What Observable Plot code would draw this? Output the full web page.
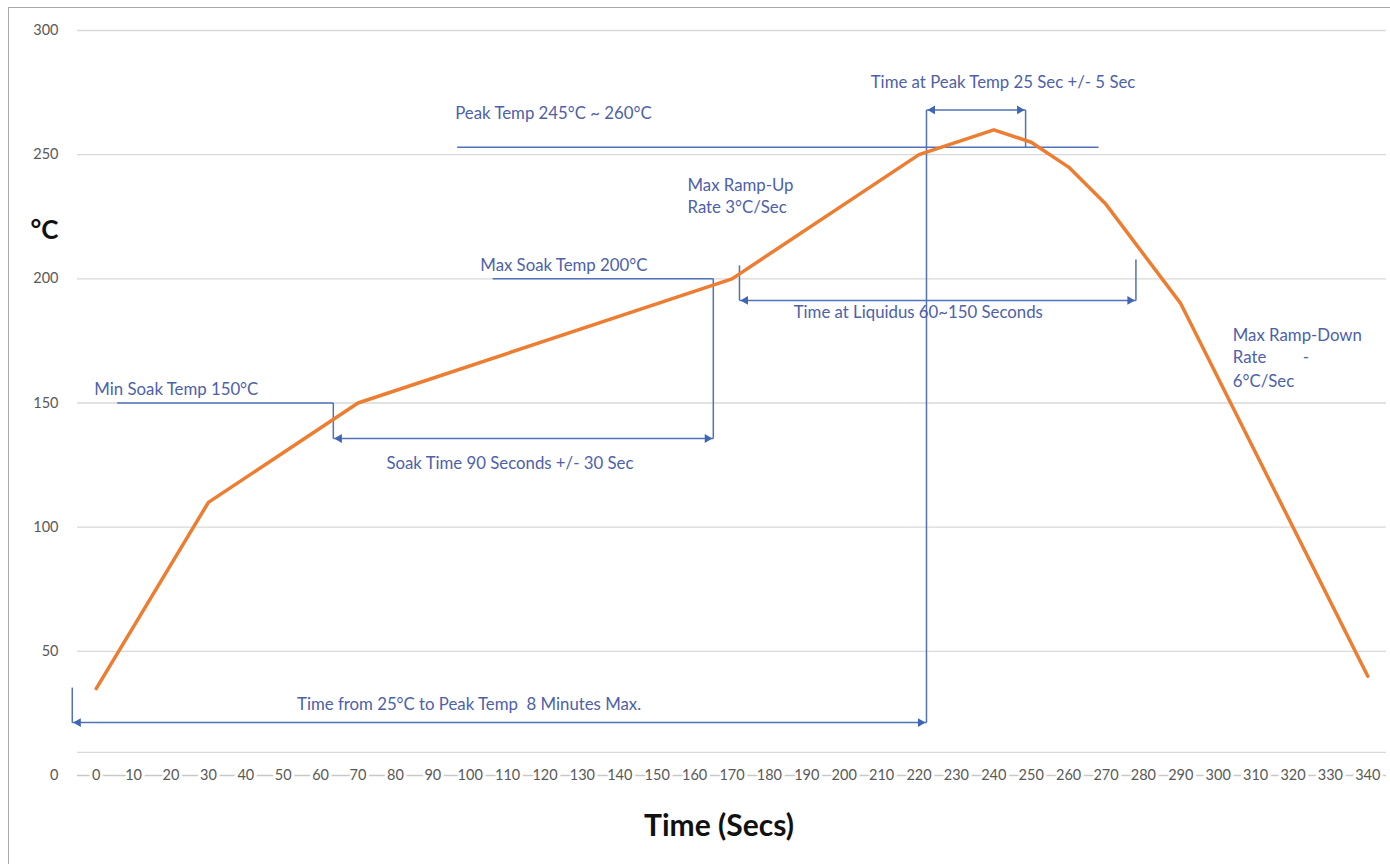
<!DOCTYPE html>
<html><head><meta charset="utf-8">
<script src="https://cdn.jsdelivr.net/npm/d3@7"></script>
<script src="https://cdn.jsdelivr.net/npm/@observablehq/plot@0.6"></script>
<style>
body{margin:0;background:#fff;}
#wrap{position:relative;width:1390px;height:864px;overflow:hidden;}
#frame{position:absolute;left:8px;top:7px;width:1400px;height:900px;border:1.5px solid #a9a9a9;pointer-events:none;}
</style></head><body><div id="wrap"><div id="frame"></div></div>
<script>
// Reflow profile (time in seconds, temperature in °C)
const times = [0, 30, 70, 170, 220, 240, 250, 260, 270, 290, 340];
const temps = [35, 110, 150, 200, 250, 260, 255, 245, 230, 190, 40];

// Axis ticks
const xTicks = d3.range(0, 341, 10);
const yTicks = [0, 50, 100, 150, 200, 250, 300];
const gridValues = [9.3, 50, 100, 150, 200, 250, 300];

// Annotation guide segments [x1, y1, x2, y2] in data units
const guideSegments = [
  [96.5, 253, 268, 253],      // peak temp line
  [222, 268, 222, 21.3],      // big vertical at 222
  [222, 268, 248.5, 268],     // time at peak arrow
  [248.5, 268, 248.5, 253],
  [-6.4, 35.4, -6.4, 21.3],   // time from 25°C
  [-6.4, 21.3, 222, 21.3],
  [5.6, 150, 63.4, 150],      // min soak
  [63.4, 150, 63.4, 135.7],
  [63.4, 135.7, 165, 135.7],  // soak time arrow
  [106, 200, 165, 200],       // max soak
  [165, 200, 165, 135.7],
  [172, 205.4, 172, 191.3],   // liquidus
  [172, 191.3, 278, 191.3],
  [278, 207.8, 278, 191.3]
];
// Arrow tips [x, y, direction]
const arrowTips = [
  [222, 268, "left"], [248.5, 268, "right"],
  [-6.4, 21.3, "left"], [222, 21.3, "right"],
  [63.4, 135.7, "left"], [165, 135.7, "right"],
  [172, 191.3, "left"], [278, 191.3, "right"]
];
// Annotation labels [text, x, y]
const noteLabels = [
  ["Peak Temp 245°C ~ 260°C", 96, 266.6],
  ["Time at Peak Temp 25 Sec +/- 5 Sec", 207.1, 279],
  ["Max Ramp-Up", 158.1, 237.6],
  ["Rate 3°C/Sec", 158.1, 228.7],
  ["Max Soak Temp 200°C", 102.7, 205.4],
  ["Min Soak Temp 150°C", -0.5, 155.4],
  ["Soak Time 90 Seconds +/- 30 Sec", 77.6, 125.6],
  ["Time at Liquidus 60~150 Seconds", 186.5, 186.5],
  ["Time from 25°C to Peak Temp  8 Minutes Max.", 53.7, 28.6],
  ["Max Ramp-Down", 303.9, 177.2],
  ["Rate", 303.9, 168.3],
  ["-", 322.6, 168.3],
  ["6°C/Sec", 303.9, 158.7]
];

const profile = times.map((t, i) => ({t, temp: temps[i]}));
const segs = guideSegments.map(([x1, y1, x2, y2]) => ({x1, y1, x2, y2}));
const tips = arrowTips.map(([x, y, d]) => ({x, y, d}));
const notes = noteLabels.map(([text, x, y]) => ({text, x, y}));

const noteColor = "#4d61a8";
const guideColor = "#5072b9";
const headColor = "#3f66b5";
const tickColor = "#595959";

const chart = Plot.plot({
  width: 1390,
  height: 864,
  marginLeft: 77,
  marginRight: 4,
  marginTop: 30,
  marginBottom: 89,
  x: {domain: [-5, 345], axis: null},
  y: {domain: [0, 300], axis: null},
  style: {fontFamily: "Lato, 'Open Sans', sans-serif", background: "transparent"},
  marks: [
    Plot.ruleY(gridValues, {stroke: "#d9d9d9", strokeWidth: 1.3}),
    Plot.ruleY([0], {stroke: "#c8c8c8", strokeWidth: 1.3}),
    Plot.text(xTicks, {x: d => d, y: 0, text: d => String(d), fill: tickColor, stroke: "white", strokeWidth: 6, fontSize: 14.5, lineAnchor: "middle"}),
    Plot.text(yTicks, {x: -5, y: d => d, dx: -19, text: d => String(d), fill: tickColor, textAnchor: "end", fontSize: 14.5, lineAnchor: "middle"}),
    Plot.link(segs, {x1: "x1", y1: "y1", x2: "x2", y2: "y2", stroke: guideColor, strokeWidth: 1.5}),
    Plot.line(profile, {x: "t", y: "temp", stroke: "#ED7D31", strokeWidth: 3.5, strokeLinejoin: "round"}),
    Plot.dot(tips.filter(d => d.d === "left"), {x: "x", y: "y", symbol: "triangle2", rotate: -90, r: 4.2, dx: 6, fill: headColor}),
    Plot.dot(tips.filter(d => d.d === "right"), {x: "x", y: "y", symbol: "triangle2", rotate: 90, r: 4.2, dx: -6, fill: headColor}),
    Plot.text(notes, {x: "x", y: "y", text: "text", fill: noteColor, textAnchor: "start", fontSize: 16.8, lineAnchor: "middle"}),
    Plot.text(["°C"], {frameAnchor: "top-left", dx: -47, dy: 200, textAnchor: "start", lineAnchor: "middle", fontSize: 26, fontWeight: "bold", fill: "#111"}),
    Plot.text(["Time (Secs)"], {frameAnchor: "bottom", dx: -13, dy: 51, lineAnchor: "middle", fontSize: 30, fontWeight: "bold", fill: "#111"})
  ]
});
document.getElementById("wrap").prepend(chart);
</script></body></html>
